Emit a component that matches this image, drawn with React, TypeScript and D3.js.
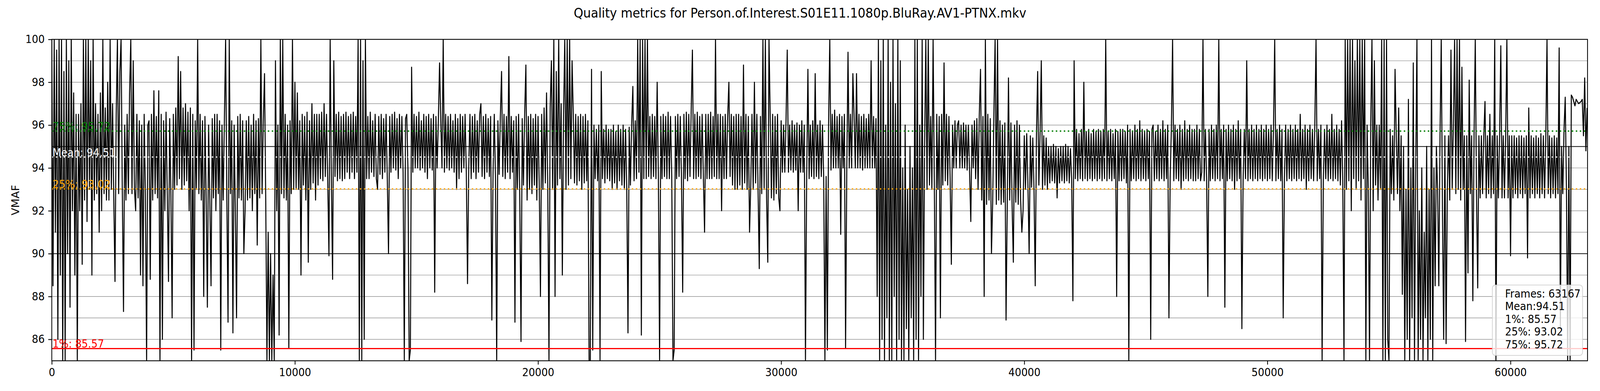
import React from 'react';
import * as d3 from 'd3';

const chartTitle =
  'Quality metrics for Person.of.Interest.S01E11.1080p.BluRay.AV1-PTNX.mkv';
const yLabel = 'VMAF';
const totalFrames = 63167;
const frameStep = 50; // one value every 50 frames

// VMAF per frame (one row = 1000 frames)
const vmaf00k = [
  100, 88.5, 100, 91, 99.5, 86, 100, 89, 100, 85, 98.5, 85, 100, 90, 99, 87.5, 100, 92, 97.5, 89,
  96.5, 85, 96.5, 92, 97, 89.5, 100, 92.5, 100, 91.5, 100, 93, 99, 89, 100, 92.5, 97, 92.8, 96.5, 91,
  97.5, 92, 100, 92.8, 96.8, 92.5, 98, 92.5, 100, 93, 97, 92.6, 88.7, 96.5, 100, 92.8, 98.5, 100, 93, 87.3,
  96, 92.5, 96.5, 92.8, 97.5, 100, 92.8, 99, 93, 92, 96.5, 92.6, 96.2, 89, 96, 88.5, 96.5, 92.8, 85, 96,
  96.2, 88.8, 96.5, 92.5, 97.6, 92.8, 96.4, 92.6, 97.6, 85, 96.5, 86, 96.2, 92, 96.6, 92.8, 88.7, 96.3, 92.7, 87,
  96.5, 93, 96.8, 93.2, 99.2, 93.5, 98.5, 93, 96.8, 93.2, 97, 93.4, 96.6, 92, 96.8, 85, 96.5, 85.5, 96.2, 93,
  100, 92.8, 96.5, 92.5, 96.2, 88, 96.4, 92.6, 87.5, 96, 92.5, 88.5, 96.3, 92.6, 96.5, 92, 96.5, 92.8, 96.2, 85.5,
  96, 92.5, 96.3, 100, 92.6, 86.8, 100, 92.8, 96.2, 86.3, 96, 92, 87, 96.4, 92.6, 96.5, 92.5, 96.2, 90, 92,
  96.2, 92.5, 96.4, 92.6, 96, 92, 96.5, 92.8, 96.2, 90.4, 96.3, 92.6, 100, 92.8, 96.2, 98.4, 92.5, 85, 91, 85,
  90, 85, 89, 85, 99, 92, 96, 86.2, 100, 92.8, 100, 92.6, 96.5, 92.5, 96, 85.6, 96.2, 92.8, 100, 93,
];
const vmaf10k = [
  98, 93, 97.5, 93, 96.2, 89, 96.5, 93.2, 96.4, 92.5, 96.6, 89.6, 96.2, 93, 97, 93.3, 96.5, 92.5, 96.5, 93.2,
  96.5, 93.5, 96.6, 93.4, 97, 93.6, 96.5, 93.4, 89.9, 100, 93.5, 88.8, 99, 93.6, 96.5, 93.4, 96.6, 93.5, 96.4, 93.4,
  96.5, 93.5, 96.6, 93.8, 96.4, 93.5, 96.5, 93.8, 96.6, 93.5, 96.4, 93.8, 100, 85, 100, 85, 99, 86, 100, 93.5,
  96.4, 93.5, 96.6, 93.8, 96.2, 93.6, 96.5, 93.5, 93, 96.4, 93.7, 96.5, 93.5, 96.3, 93.8, 96.5, 93.5, 90, 96.4, 93.8,
  96.5, 94, 96.6, 93.9, 96.3, 93.5, 96.5, 94, 96.4, 93.8, 85, 96.3, 96.5, 93.9, 85, 85.5, 98.7, 93.8, 96.5, 94,
  96.4, 94, 96.6, 93.9, 96.2, 94, 96.5, 93.8, 96.4, 93.5, 96.5, 94, 96.3, 93.9, 96.5, 88.2, 96.4, 94, 96.2, 98.9,
  96.2, 94, 100, 93.8, 96.5, 94, 96.4, 93.9, 96.5, 94, 96.2, 93.8, 96.5, 93, 96.3, 93.5, 96.5, 93.8, 96.4, 94,
  96.5, 93.8, 88.6, 94, 96.5, 93.5, 96.4, 93.8, 96.5, 93.5, 96.2, 93.8, 96.5, 97, 93.6, 96.4, 93.5, 96.5, 93.8, 96.3,
  93.6, 96.4, 86.9, 93.8, 96.5, 93.5, 85, 96.2, 93.7, 96.4, 98.5, 93.6, 96.5, 93.5, 96.4, 93.8, 99.2, 93.5, 96.4, 93.8,
  96.2, 86.8, 96.4, 93, 96.5, 92.5, 85.9, 96.3, 93.2, 96.5, 98.8, 92.5, 96.4, 93, 96.5, 92.8, 96.3, 93.2, 96.5, 92.5,
];
const vmaf20k = [
  96.4, 93.2, 88, 96.5, 93, 96.8, 93.3, 97.5, 93.2, 85, 96.8, 99, 93, 100, 88, 98.5, 93.2, 100, 93.5, 97,
  89, 96.5, 100, 93, 100, 93.2, 100, 93.5, 99, 96.5, 93.3, 96.5, 93.2, 96.4, 93.4, 96.5, 93, 96.4, 93.3, 96.5,
  93.4, 96.2, 85, 85, 98.6, 85.5, 96, 93.5, 95.8, 93.4, 96, 85, 98.5, 93.5, 95.8, 93.3, 96, 93.5, 95.8, 93.4,
  95.8, 93, 96, 93.3, 95.7, 93, 96, 93.4, 95.8, 93.2, 96, 93, 95.8, 93, 86.3, 95.9, 93.2, 96, 97.8, 93.4,
  96.2, 93.5, 100, 93.8, 100, 86.2, 100, 93.5, 100, 93.5, 100, 93.6, 96.4, 93.5, 96.5, 93.6, 96.4, 93.5, 98, 93.6,
  85, 96.4, 93.5, 96.5, 93.6, 96.4, 93.5, 96.6, 93.5, 96.4, 93.6, 85, 85.5, 96.4, 93.5, 96.5, 93.6, 96.4, 93.5, 88.2,
  96.5, 93.5, 96.6, 93.4, 96.5, 93.6, 96.7, 99.5, 93.5, 96.5, 93.5, 96.6, 93.6, 96.4, 93.5, 96.5, 93.6, 91, 96.5, 93.5,
  96.5, 93.5, 96.6, 93.5, 96.4, 93.6, 100, 93.5, 96.5, 93.5, 96.5, 92, 96.4, 93.5, 96.5, 93.5, 96.4, 98, 93.6, 96.5,
  93.2, 96.4, 93, 96.5, 93, 96.5, 93.2, 96.4, 93, 98.8, 93.3, 96.5, 93, 96.4, 91, 93.2, 96.5, 93, 98, 93.3,
  96.5, 93, 89.3, 96.4, 92.8, 100, 93, 100, 92.6, 89.6, 100, 96.4, 92.6, 96.5, 92.5, 96.4, 92.8, 96.5, 92.6, 92,
];
const vmaf30k = [
  96.2, 93.8, 96, 93.8, 96.2, 99.5, 93.8, 96, 93.9, 96.2, 93.8, 96, 93.9, 96.1, 92, 96, 93.8, 96.2, 93.8, 96,
  85, 93.6, 98.6, 93.5, 96, 93.6, 96.2, 93.5, 98.4, 93.6, 96, 93.5, 96.2, 93.6, 96, 93.5, 85, 93.6, 85.5, 96,
  100, 93.9, 96.5, 94, 96.7, 94, 96.4, 94, 96.5, 90.9, 96.4, 94, 96.5, 85.6, 94, 99.4, 94, 96.5, 94, 98.4,
  96.4, 94, 98.4, 94, 96.5, 94, 96.4, 93.9, 96.5, 94, 96.3, 94, 96.5, 94, 99, 94, 96.4, 94, 96.3, 88,
  100, 85, 99, 86, 100, 85, 96, 87, 100, 85, 98, 85, 100, 88, 97, 85, 100, 86, 99, 85,
  94, 85, 96, 86.5, 93, 85, 95, 87, 94, 85, 100, 86, 100, 85, 96, 88, 100, 86, 95, 100,
  93, 100, 93.2, 96.4, 93, 100, 93.3, 85, 96.5, 93, 96.4, 87, 96.5, 93.2, 98.9, 93.4, 96.5, 93.2, 96.4, 93.5,
  89.5, 96, 94, 96.2, 94, 96, 96.2, 94, 96, 94, 96.1, 94, 96, 93.9, 96, 93.8, 91.5, 96, 94, 96.2,
  93.5, 96.3, 93, 96.5, 98.6, 92.5, 96.4, 88, 100, 92.3, 96.5, 92.5, 96.3, 90, 92.4, 96.5, 100, 92.3, 100, 92.5,
  96.2, 92.3, 96, 92.4, 96.1, 86.9, 92.3, 98.2, 92.5, 96.1, 92.2, 89.6, 96, 92.4, 96.2, 92.3, 96, 92.5, 91, 92,
];
const vmaf40k = [
  95.5, 93, 95.6, 93.2, 90, 95.5, 93.1, 95.4, 93, 88.5, 95.5, 98.5, 93.2, 95.6, 99, 93, 95.5, 93.2, 95.4, 93,
  95, 93.3, 95, 93.4, 95.1, 93.3, 95, 92.6, 94.9, 93.3, 95, 93.4, 95, 93.3, 95.1, 93.4, 95, 93.3, 94.9, 93.4,
  87.8, 99, 93.5, 95.8, 93.4, 95.6, 93.5, 95.8, 93.4, 98, 93.5, 95.7, 93.4, 95.8, 93.5, 95.6, 93.4, 95.8, 93.5, 95.7,
  93.4, 95.8, 93.5, 95.7, 93.4, 95.8, 93.5, 100, 93.4, 95.7, 93.5, 95.8, 93.4, 95.6, 93.5, 95.8, 88, 95.7, 93.4, 95.8,
  93.4, 95.8, 93.5, 95.7, 93.3, 96, 85, 95.8, 93.4, 95.7, 93.5, 96, 93.4, 95.8, 93.5, 96.2, 93.4, 95.8, 93.5, 95.7,
  93.4, 95.8, 93.5, 95.7, 86, 95.8, 96, 93.4, 95.7, 93.5, 96, 93.4, 95.8, 93.5, 96.2, 93.4, 95.8, 93.5, 96, 87,
  93.5, 95.8, 100, 93.4, 96, 93.5, 95.8, 93.4, 96, 93, 95.8, 93.4, 96.2, 93.5, 95.8, 93.4, 96, 93.5, 95.8, 93.4,
  95.8, 93.4, 96, 93.5, 95.8, 93.4, 93.8, 100, 93.4, 95.8, 93.5, 88, 95.8, 93.4, 96, 93.5, 95.8, 93.4, 96, 93.5,
  100, 93.4, 95.8, 93.5, 96, 87.5, 95.8, 93.4, 96, 93.5, 95.8, 93.4, 96, 93, 95.8, 93.4, 96.2, 93.5, 95.8, 86.5,
  93.4, 95.8, 93.5, 99, 93.4, 95.8, 93.5, 96, 93.4, 95.8, 93.5, 96, 93.4, 95.8, 93.5, 96, 93.4, 95.8, 93.5, 96,
];
const vmaf50k = [
  93.4, 95.8, 93.5, 96, 93.4, 95.8, 100, 93.4, 95.8, 93.5, 96, 93.4, 95.8, 87, 93.5, 96, 93.4, 95.8, 93.5, 96,
  93.4, 95.8, 93.5, 96, 93.4, 95.8, 93.5, 96.5, 93.4, 95.8, 93.5, 96, 93, 95.8, 93.4, 96, 93.5, 95.8, 93.4, 96,
  100, 93.4, 95.8, 93.5, 96, 85, 93.4, 95.8, 93.5, 96, 93.4, 95.8, 93.5, 96.5, 93.4, 95.8, 93.5, 96, 93.4, 95.8,
  93.2, 96.2, 93.4, 85, 100, 93, 100, 93.4, 100, 92, 100, 93.5, 99, 93, 100, 93.4, 100, 92.5, 100, 93.5,
  100, 85, 96, 93, 85, 96, 100, 92, 99, 93.2, 96, 92.5, 96, 93, 100, 85, 100, 85, 100, 86,
  85, 95.8, 92.8, 95.5, 92.5, 98.6, 95.5, 92.8, 96.8, 92, 95.5, 88.1, 95, 85, 93, 86, 97.2, 85, 94, 87,
  98.9, 85, 94, 100, 85, 92, 86, 94, 85, 91, 87, 95, 85, 93, 86, 100, 85, 94, 88.5, 95,
  93, 88.5, 95.5, 100, 92, 86, 95.5, 85.8, 93, 95.5, 92.5, 99.5, 93, 96, 100, 92.8, 100, 93, 100, 92.5,
  98.7, 93, 95.5, 85.9, 95.5, 89.1, 98.1, 92.8, 95.5, 87.8, 95.5, 100, 92.8, 88.4, 95.5, 92.6, 95.5, 92.8, 95.5, 97.1,
  92.6, 95.5, 92.8, 96.5, 92.6, 95.5, 92.8, 100, 85, 95.5, 92.6, 95.5, 99.7, 92.6, 95.5, 92.6, 95.5, 100, 92.6, 95.5,
];
const vmaf60k = [
  89.9, 95.5, 92.6, 95.5, 92.8, 95.4, 92.6, 95.5, 92.8, 95.5, 92.6, 95.4, 92.8, 95.5, 89.8, 96.8, 92.6, 95.5, 92.8, 95.4,
  92.6, 95.5, 92.8, 95.4, 92.6, 95.6, 92.8, 95.5, 92.6, 95.4, 100, 92.8, 95.5, 92.6, 95.4, 92.8, 95.5, 92.6, 95.4, 92.8,
  99.6, 86.5, 95, 92.8, 95.8, 97.3, 93, 85, 95, 85, 97.4, 97.3, 97.1, 96.9, 97.2, 97.1, 97, 97.05, 97.1, 97.2,
  95.5, 98.2, 94.8, 96.8,
];

const xTicks = [0, 10000, 20000, 30000, 40000, 50000, 60000];
const yTicks = [86, 88, 90, 92, 94, 96, 98, 100];
const gridValues = d3.range(86, 100);
const darkGridValues = [90, 95];

const refLabels = ['75%', 'Mean', '25%', '1%'];
const refValues = [95.72, 94.51, 93.02, 85.57];
const refColors = ['green', 'white', 'orange', 'red'];
const refDotted = [true, true, true, false];

const statLines = [
  'Frames: 63167',
  'Mean:94.51',
  '1%: 85.57',
  '25%: 93.02',
  '75%: 95.72',
];

const W = 4400;
const H = 1000;
const margin = { top: 100.7, right: 34.3, bottom: 77.3, left: 142.4 };
const font = 'DejaVu Sans, sans-serif';
const fs = 27.8;

const App: React.FC = () => {
  const svgRef = React.useRef(null);

  React.useEffect(() => {
    const values = [
      ...vmaf00k,
      ...vmaf10k,
      ...vmaf20k,
      ...vmaf30k,
      ...vmaf40k,
      ...vmaf50k,
      ...vmaf60k,
    ];
    const x = d3
      .scaleLinear()
      .domain([0, totalFrames])
      .range([margin.left, W - margin.right]);
    const y = d3
      .scaleLinear()
      .domain([85, 100])
      .range([H - margin.bottom, margin.top]);

    const svg = d3.select(svgRef.current);
    svg.selectAll('*').remove();
    svg
      .append('rect')
      .attr('width', W)
      .attr('height', H)
      .attr('fill', 'white');

    svg
      .append('defs')
      .append('clipPath')
      .attr('id', 'plot-clip')
      .append('rect')
      .attr('x', margin.left)
      .attr('y', margin.top)
      .attr('width', W - margin.left - margin.right)
      .attr('height', H - margin.top - margin.bottom);

    // grid: grey every unit, darker at 90 and 95
    svg
      .append('g')
      .selectAll('line')
      .data(gridValues)
      .enter()
      .append('line')
      .attr('x1', margin.left)
      .attr('x2', W - margin.right)
      .attr('y1', (d) => y(d))
      .attr('y2', (d) => y(d))
      .attr('stroke', (d) => (darkGridValues.includes(d) ? '#111' : '#808080'))
      .attr('stroke-width', (d) => (darkGridValues.includes(d) ? 2 : 1.2));

    // the vmaf line
    const line = d3
      .line<number>()
      .x((d, i) => x(i * frameStep))
      .y((d) => y(d));
    svg
      .append('path')
      .datum(values)
      .attr('clip-path', 'url(#plot-clip)')
      .attr('fill', 'none')
      .attr('stroke', 'black')
      .attr('stroke-width', 2.8)
      .attr('stroke-linejoin', 'round')
      .attr('d', line);

    // reference lines + labels
    refValues.forEach((v, i) => {
      svg
        .append('line')
        .attr('x1', margin.left)
        .attr('x2', W - margin.right)
        .attr('y1', y(v))
        .attr('y2', y(v))
        .attr('stroke', refColors[i])
        .attr('stroke-width', refDotted[i] ? 3.3 : 3)
        .attr('stroke-dasharray', refDotted[i] ? '4,7' : null);
      svg
        .append('text')
        .attr('x', x(0) + 2)
        .attr('y', y(v) - 2)
        .attr('fill', refColors[i])
        .attr('font-family', font)
        .attr('font-size', fs)
        .text(`${refLabels[i]}: ${v.toFixed(2)}`);
    });

    // spines
    svg
      .append('rect')
      .attr('x', margin.left)
      .attr('y', margin.top)
      .attr('width', W - margin.left - margin.right)
      .attr('height', H - margin.top - margin.bottom)
      .attr('fill', 'none')
      .attr('stroke', 'black')
      .attr('stroke-width', 2.2);

    // x axis
    const xAxis = svg
      .append('g')
      .attr('transform', `translate(0,${H - margin.bottom})`)
      .call(
        d3
          .axisBottom(x)
          .tickValues(xTicks)
          .tickSize(9.7)
          .tickPadding(9.7)
          .tickFormat((d) => `${d}`)
      );
    xAxis.select('.domain').remove();
    xAxis.selectAll('line').attr('stroke-width', 2.2);
    xAxis
      .selectAll('text')
      .attr('font-family', font)
      .attr('font-size', fs)
      .attr('fill', 'black');

    // y axis
    const yAxis = svg
      .append('g')
      .attr('transform', `translate(${margin.left},0)`)
      .call(
        d3
          .axisLeft(y)
          .tickValues(yTicks)
          .tickSize(9.7)
          .tickPadding(9.7)
          .tickFormat((d) => `${d}`)
      );
    yAxis.select('.domain').remove();
    yAxis.selectAll('line').attr('stroke-width', 2.2);
    yAxis
      .selectAll('text')
      .attr('font-family', font)
      .attr('font-size', fs)
      .attr('fill', 'black');

    // title + y label
    svg
      .append('text')
      .attr('x', W / 2)
      .attr('y', 45)
      .attr('text-anchor', 'middle')
      .attr('font-family', font)
      .attr('font-size', 33.3)
      .text(chartTitle);
    svg
      .append('text')
      .attr('transform', `translate(53,${(margin.top + H - margin.bottom) / 2}) rotate(-90)`)
      .attr('text-anchor', 'middle')
      .attr('font-family', font)
      .attr('font-size', fs)
      .text(yLabel);

    // stats box
    const box = svg.append('g');
    box
      .append('rect')
      .attr('x', 4104)
      .attr('y', 729)
      .attr('width', 248)
      .attr('height', 180)
      .attr('rx', 8)
      .attr('fill', 'white')
      .attr('fill-opacity', 0.8)
      .attr('stroke', '#cccccc')
      .attr('stroke-opacity', 0.8)
      .attr('stroke-width', 2.2);
    box
      .selectAll('text')
      .data(statLines)
      .enter()
      .append('text')
      .attr('x', 4139)
      .attr('y', (d, i) => 760.7 + i * 32.5)
      .attr('font-family', font)
      .attr('font-size', fs)
      .text((d) => d);
  }, []);

  return (
    <svg
      ref={svgRef}
      viewBox={`0 0 ${W} ${H}`}
      preserveAspectRatio="none"
      style={{ position: 'absolute', left: 0, top: 0, width: '100vw', height: '100vh' }}
    />
  );
};

export default App;
